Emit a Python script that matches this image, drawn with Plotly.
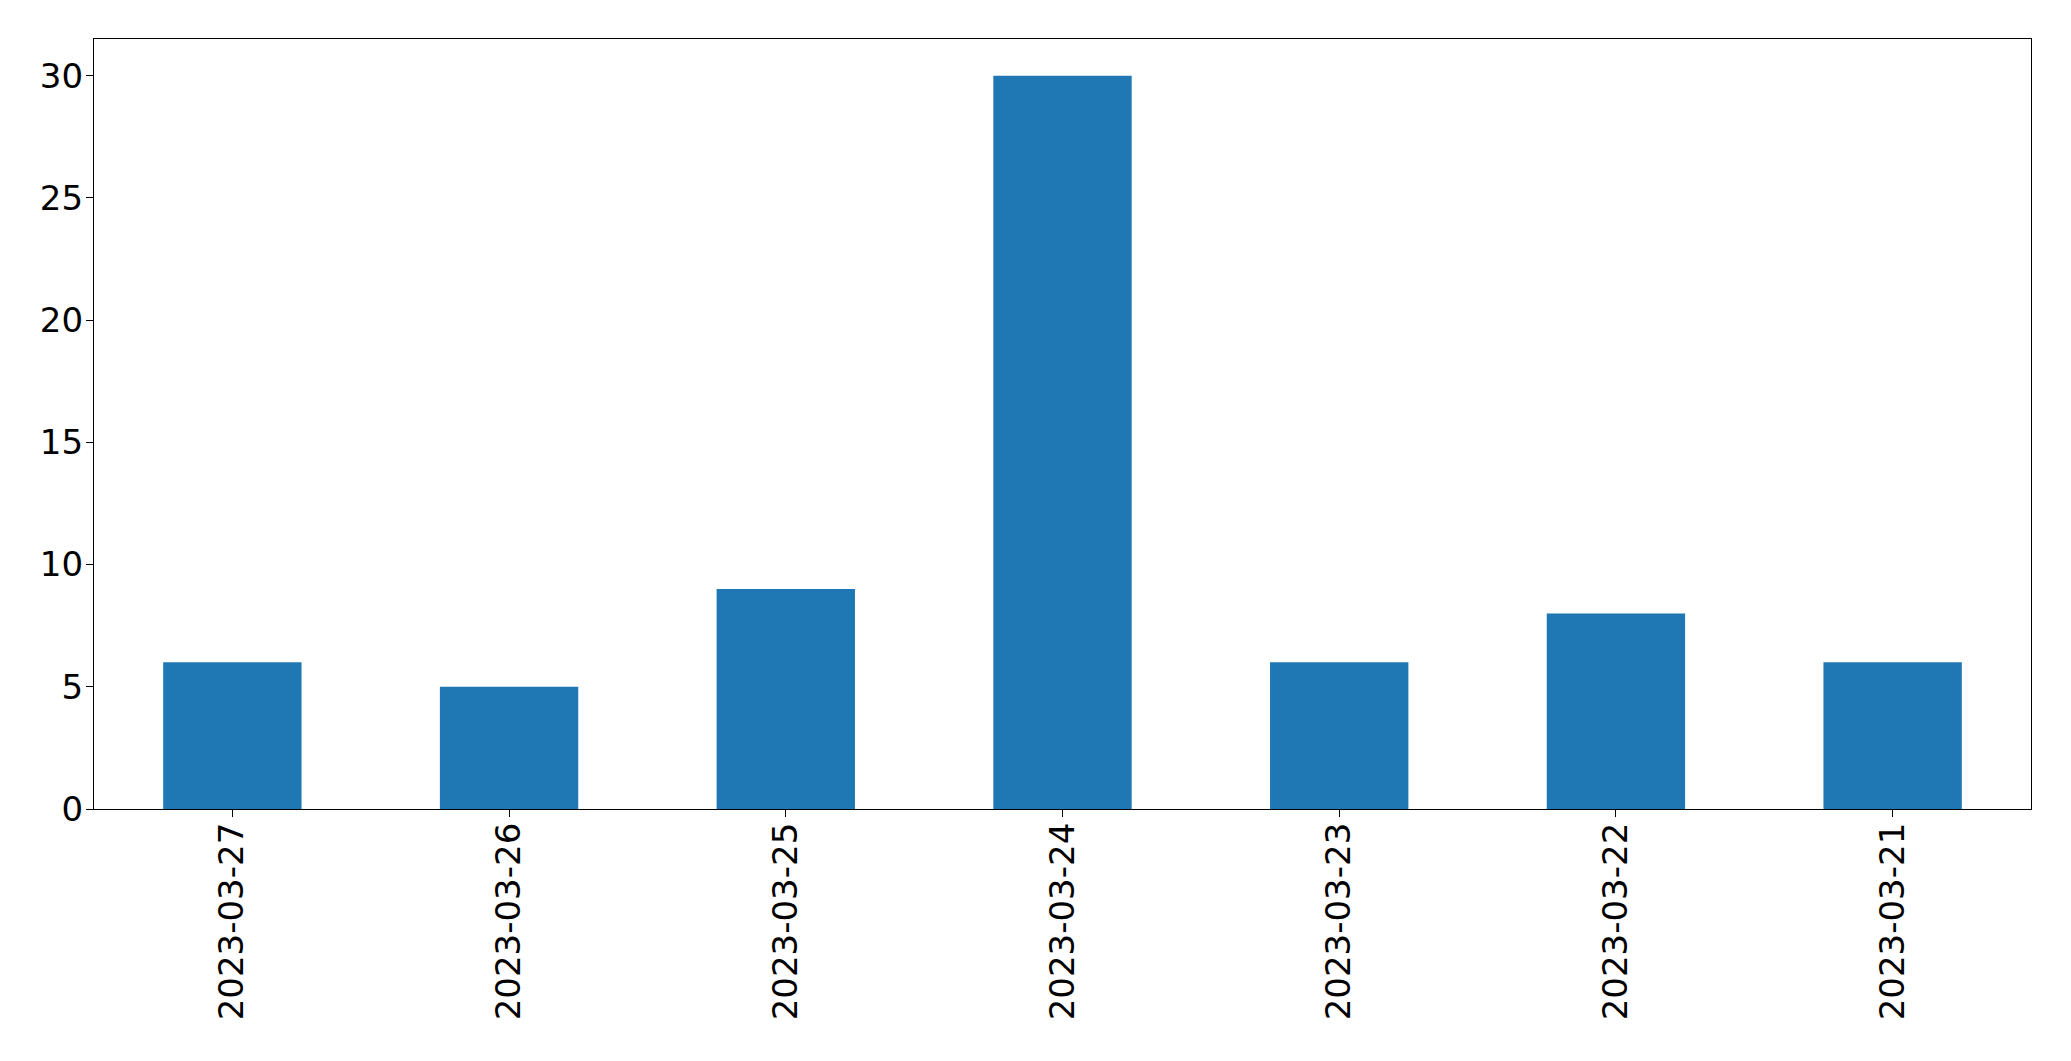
import plotly.graph_objects as go

dates = ["2023-03-27", "2023-03-26", "2023-03-25", "2023-03-24",
         "2023-03-23", "2023-03-22", "2023-03-21"]
counts = [6, 5, 9, 30, 6, 8, 6]
y_ticks = [0, 5, 10, 15, 20, 25, 30]

fig = go.Figure()
fig.add_trace(go.Bar(
    x=list(range(len(dates))), y=counts, width=0.5,
    marker=dict(color="#1f77b4", line=dict(width=0)),
))

fig.update_layout(
    width=2071, height=1061,
    paper_bgcolor="white", plot_bgcolor="white",
    margin=dict(l=86, r=48, t=31, b=260, pad=0),
    font=dict(family="DejaVu Sans", size=34, color="black"),
    showlegend=False,
)
fig.update_xaxes(
    range=[-0.5, len(dates) - 0.5],
    tickmode="array", tickvals=list(range(len(dates))), ticktext=dates,
    tickangle=-90, ticks="outside", ticklen=7, tickwidth=1.3, tickcolor="black",
    ticklabelstandoff=-8,
    showline=True, linecolor="black", linewidth=1.3, mirror=True,
    showgrid=False, zeroline=False,
)
fig.update_yaxes(
    range=[0, 31.5],
    tickmode="array", tickvals=y_ticks,
    ticks="outside", ticklen=7, tickwidth=1.3, tickcolor="black",
    ticklabelstandoff=-4,
    showline=True, linecolor="black", linewidth=1.3, mirror=True,
    showgrid=False, zeroline=False,
)

fig.write_html("out.html")
